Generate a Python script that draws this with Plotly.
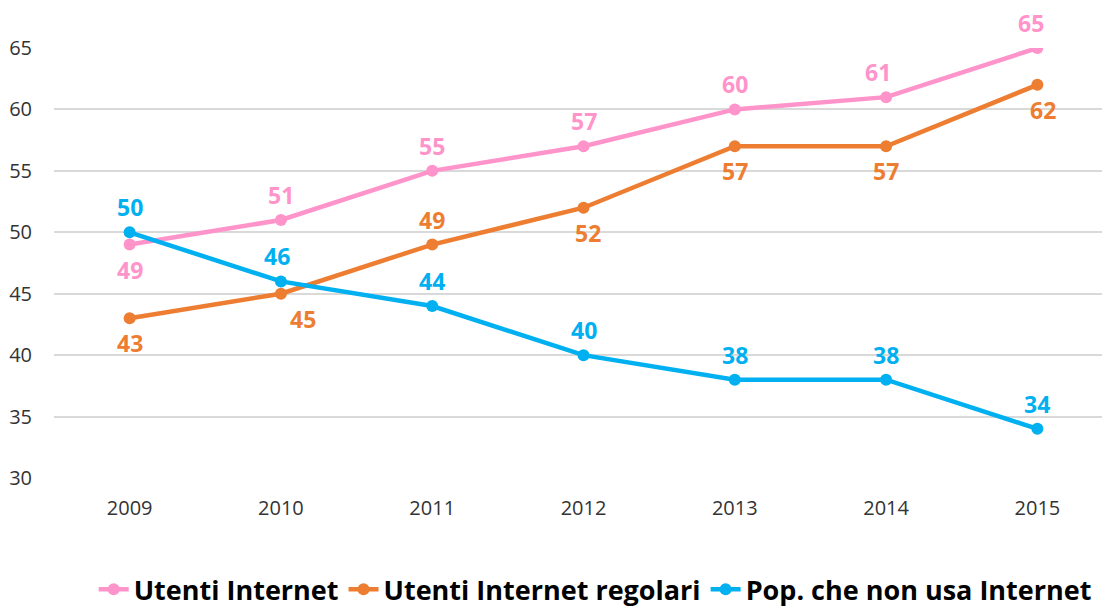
import plotly.graph_objects as go

years = [2009, 2010, 2011, 2012, 2013, 2014, 2015]
utenti = [49, 51, 55, 57, 60, 61, 65]
regolari = [43, 45, 49, 52, 57, 57, 62]
non_usa = [50, 46, 44, 40, 38, 38, 34]
y_ticks = [30, 35, 40, 45, 50, 55, 60, 65]

names = ["Utenti Internet", "Utenti Internet regolari", "Pop. che non usa Internet"]
series = [utenti, regolari, non_usa]
colors = ["#FF94CB", "#ED7D31", "#00B0F0"]
# label placement: +1 above, -1 below; extra x shift
placement = [
    [(-1, 0), (1, 0), (1, 0), (1, 0), (1, 0), (1, -8), (1, -6)],
    [(-1, 0), (-1, 22), (1, 0), (-1, 4), (-1, 0), (-1, 0), (-1, 6)],
    [(1, 0), (1, -4), (1, 0), (1, 0), (1, 0), (1, 0), (1, 0)],
]

fig = go.Figure()
annotations = []
for name, vals, col, plc in zip(names, series, colors, placement):
    fig.add_trace(go.Scatter(
        x=years, y=vals, name=name, mode="lines+markers",
        line=dict(color=col, width=4.5), marker=dict(color=col, size=12),
    ))
    for x, v, (d, xs) in zip(years, vals, plc):
        annotations.append(dict(
            x=x, y=v, xref="x", yref="y", text=str(v), showarrow=False,
            yshift=25 * d, xshift=xs,
            font=dict(family="Open Sans", size=23, color=col, weight="bold"),
        ))

fig.update_layout(
    width=1110, height=609,
    margin=dict(l=46, r=8, t=40, b=139, autoexpand=False),
    paper_bgcolor="white", plot_bgcolor="white",
    annotations=annotations,
    showlegend=True,
    legend=dict(
        orientation="h", xref="container", x=0.529, xanchor="center",
        yref="container", y=0.045, yanchor="middle",
        font=dict(family="Open Sans", size=27, color="#000000", weight="bold"),
        itemwidth=30, tracegroupgap=0,
    ),
    font=dict(family="Open Sans"),
)
fig.update_xaxes(
    range=[2008.5, 2015.48], tickvals=years, ticktext=[str(y) for y in years],
    showgrid=False, zeroline=False, showline=False, ticks="",
    ticklabelstandoff=16,
    tickfont=dict(family="Open Sans", size=20, color="#333333"),
)
fig.update_yaxes(
    range=[30, 65], tickvals=y_ticks, showgrid=True, gridcolor="#D9D9D9",
    gridwidth=1.5, zeroline=False, showline=False, ticks="",
    ticklabelstandoff=21,
    tickfont=dict(family="Open Sans", size=20, color="#333333"),
)
fig.write_html("out.html")
